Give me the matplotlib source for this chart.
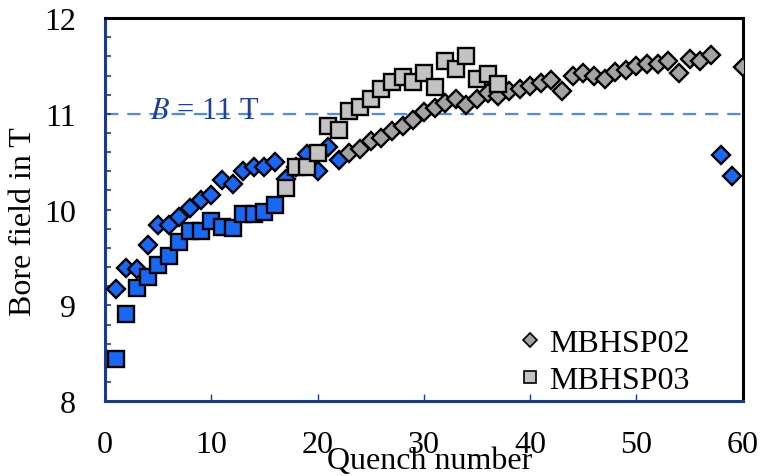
import matplotlib
matplotlib.use("Agg")
from matplotlib import pyplot as plt
from matplotlib.lines import Line2D
from matplotlib.ticker import MultipleLocator

plt.rcParams['font.family'] = ['Liberation Serif', 'DejaVu Serif']
plt.rcParams['mathtext.fontset'] = 'stix'

# MBHSP02, first quenches (blue)
q02_blue_a = list(range(1, 23))
b02_blue_a = [9.17, 9.39, 9.38, 9.63, 9.84, 9.84, 9.92, 10.02, 10.10, 10.15, 10.31,
              10.27, 10.40, 10.44, 10.45, 10.50, 10.32, 10.45, 10.58, 10.40, 10.65, 10.52]
# MBHSP02, late blue quenches
q02_blue_b = [58, 59]
b02_blue_b = [10.57, 10.35]
# MBHSP02 (grey)
q02_grey = list(range(23, 58)) + [60]
b02_grey = [10.59, 10.63, 10.72, 10.75, 10.82, 10.87, 10.94, 11.02, 11.06, 11.11,
            11.15, 11.09, 11.16, 11.22, 11.19, 11.24, 11.26, 11.29, 11.32, 11.35,
            11.24, 11.39, 11.43, 11.40, 11.36, 11.44, 11.46, 11.50, 11.52, 11.52,
            11.55, 11.43, 11.57, 11.55, 11.61, 11.49]

# MBHSP03, blue
q03_blue = list(range(1, 17))
b03_blue = [8.44, 8.91, 9.18, 9.30, 9.42, 9.52, 9.66, 9.78, 9.78, 9.88, 9.82,
            9.81, 9.95, 9.95, 9.97, 10.05]
# MBHSP03, grey
q03_grey = list(range(17, 38))
b03_grey = [10.23, 10.44, 10.44, 10.59, 10.87, 10.83, 11.03, 11.07, 11.16, 11.26,
            11.33, 11.38, 11.33, 11.43, 11.28, 11.55, 11.47, 11.60, 11.36, 11.42, 11.31]

b_nominal = 11.0

blue = "#1769f5"
grey_d = "#a3a3a3"
grey_s = "#c3c3c3"
navy = "#1c3a86"

fig = plt.figure(figsize=(7.61, 4.77), dpi=100)
ax = fig.add_axes([0.138, 0.157, 0.838, 0.803])

ax.axhline(b_nominal, color="#4a8cf2", lw=1.6, dashes=(6, 4), zorder=1)
ax.text(4.2, b_nominal + 0.03, "$B$ = 11 T", color="#1f3f9a", fontsize=22,
        va="center", ha="left", zorder=1)

dkw = dict(ls="none", marker="D", ms=9.6, mec="black", mew=1.7)
skw = dict(ls="none", marker="s", ms=11.6, mec="black", mew=1.7)

ax.plot(q02_blue_a, b02_blue_a, mfc=blue, zorder=3, **dkw)
ax.plot(q02_blue_b, b02_blue_b, mfc=blue, zorder=3, **dkw)
ax.plot(q03_blue, b03_blue, mfc=blue, zorder=4, **skw)
ax.plot(q02_grey, b02_grey, mfc=grey_d, zorder=5, **dkw)
ax.plot(q03_grey, b03_grey, mfc=grey_s, zorder=6, **skw)

ax.set_xlim(0, 60)
ax.set_ylim(8, 12)
ax.xaxis.set_major_locator(MultipleLocator(10))
ax.yaxis.set_major_locator(MultipleLocator(1))
ax.yaxis.set_minor_locator(MultipleLocator(0.2))
ax.tick_params(axis="both", which="both", direction="in", color=navy,
               labelsize=23)
ax.tick_params(axis="y", which="both", length=4, width=1.2, pad=21)
ax.tick_params(axis="x", which="major", length=5, width=1.0, pad=21)

for side in ("left", "bottom"):
    ax.spines[side].set_color(navy)
    ax.spines[side].set_linewidth(2.2)
for side in ("top", "right"):
    ax.spines[side].set_color("black")
    ax.spines[side].set_linewidth(2.2)

# x label sits low, overlapping the tick labels as in the original
fig.text(0.565, 0.002, "Quench number", fontsize=23, ha="center", va="bottom")
ax.set_ylabel("Bore field in T", fontsize=23)
ax.yaxis.set_label_coords(-0.105, 0.47)

handles = [
    Line2D([], [], ls="none", marker="D", ms=7, mfc=grey_d, mec="black", mew=1.2),
    Line2D([], [], ls="none", marker="s", ms=8, mfc=grey_s, mec="black", mew=1.2),
]
ax.legend(handles, ["MBHSP02", "MBHSP03"], loc="lower right", frameon=False,
          fontsize=23, handlelength=0.6, handletextpad=0.3, labelspacing=0.25,
          borderaxespad=0.0, bbox_to_anchor=(0.9375, -0.018))

fig.savefig("out.png", dpi=100)
